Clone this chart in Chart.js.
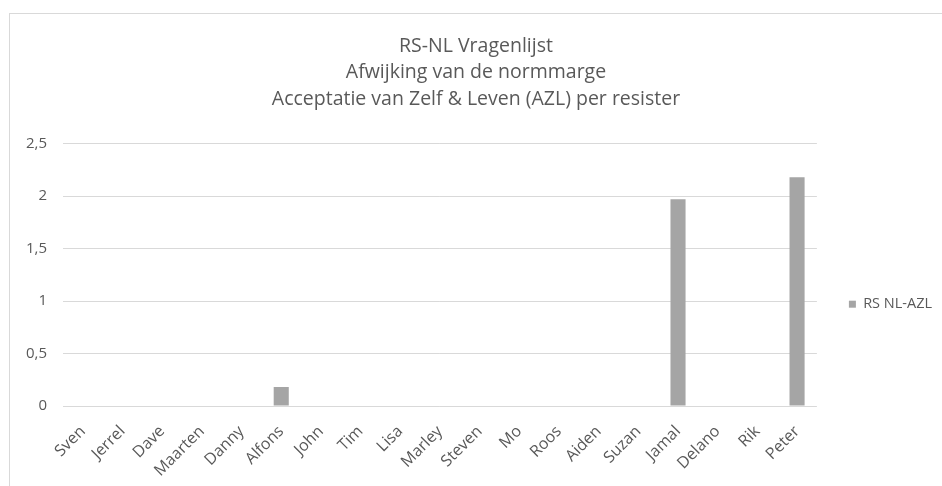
<!DOCTYPE html>
<html>
<head>
<meta charset="utf-8">
<script src="https://cdn.jsdelivr.net/npm/chart.js@4/dist/chart.umd.min.js"></script>
<style>
  html, body { margin: 0; padding: 0; background: #fff; overflow: hidden; }
  #frame {
    position: absolute; left: 9px; top: 13px;
    width: 932px; height: 472px;
    border-left: 1px solid #d9d9d9; border-top: 1px solid #d9d9d9;
  }
</style>
</head>
<body>
<div id="frame"><canvas id="azlChart" width="932" height="472"></canvas></div>
<script>
const names = ['Sven', 'Jerrel', 'Dave', 'Maarten', 'Danny', 'Alfons', 'John', 'Tim', 'Lisa',
  'Marley', 'Steven', 'Mo', 'Roos', 'Aiden', 'Suzan', 'Jamal', 'Delano', 'Rik', 'Peter'];
const azlValues = [0, 0, 0, 0, 0, 0.18, 0, 0, 0, 0, 0, 0, 0, 0, 0, 1.97, 0, 0, 2.18];
const yTickLabels = ['0', '0,5', '1', '1,5', '2', '2,5'];
const titleLines = ['RS-NL Vragenlijst', 'Afwijking van de normmarge', 'Acceptatie van Zelf & Leven (AZL) per resister'];
const seriesName = 'RS NL-AZL';

const textColor = '#595959';
const fontFamily = "'Open Sans', 'Noto Sans', sans-serif";

const ctx = document.getElementById('azlChart').getContext('2d');

new Chart(ctx, {
  type: 'bar',
  data: {
    labels: names,
    datasets: [{
      label: seriesName,
      data: azlValues,
      backgroundColor: '#a5a5a5',
      borderWidth: 0,
      categoryPercentage: 1,
      barPercentage: 0.38
    }]
  },
  options: {
    responsive: false,
    animation: false,
    layout: { padding: { left: 0, right: 0, top: 0, bottom: 0 } },
    plugins: {
      title: {
        display: true,
        text: titleLines,
        color: textColor,
        font: { family: fontFamily, size: 19.5, weight: 'normal', lineHeight: 1.36 },
        padding: { top: 19, bottom: 31 }
      },
      legend: {
        position: 'right',
        // blank legend title only pushes the entry down to the middle of the plot
        title: { display: true, text: ' ', font: { size: 12 }, padding: { top: 0, bottom: 94 } },
        labels: {
          color: textColor,
          font: { family: fontFamily, size: 14.5 },
          boxWidth: 7,
          boxHeight: 7,
          padding: 32
        }
      },
      tooltip: { enabled: false }
    },
    scales: {
      x: {
        grid: { display: false },
        border: { display: false },
        ticks: {
          color: textColor,
          font: { family: fontFamily, size: 16 },
          autoSkip: false,
          minRotation: 45,
          maxRotation: 45,
          padding: 8
        },
        afterFit: function (scale) { scale.height = 80; }
      },
      y: {
        min: 0,
        max: 2.5,
        grid: { color: '#d9d9d9', drawTicks: false },
        border: { display: false },
        ticks: {
          stepSize: 0.5,
          color: textColor,
          font: { family: fontFamily, size: 15 },
          padding: 16,
          callback: function (value, index) { return yTickLabels[index]; }
        },
        afterFit: function (scale) { scale.width = 53; }
      }
    }
  }
});
</script>
</body>
</html>
